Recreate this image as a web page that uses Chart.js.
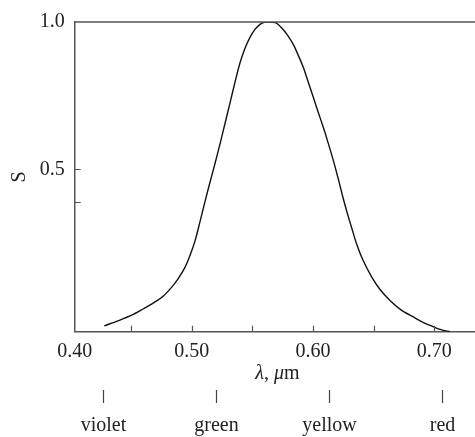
<!DOCTYPE html>
<html>
<head>
<meta charset="utf-8">
<script src="https://cdn.jsdelivr.net/npm/chart.js@4/dist/chart.umd.min.js"></script>
<style>
  html, body { margin: 0; padding: 0; background: #fff; }
  #wrap { width: 475px; height: 437px; position: relative; }
</style>
</head>
<body>
<div id="wrap"><canvas id="chart"></canvas></div>
<script>
// curva de sensibilidad
const wavelength = [
  0.4279, 0.4392, 0.4505, 0.4598, 0.4697, 0.4771, 0.4835, 0.4887, 0.4944, 0.4986,
  0.5027, 0.5068, 0.5109, 0.5150, 0.5192, 0.5233, 0.5274, 0.5315, 0.5357, 0.5398,
  0.5439, 0.5480, 0.5521, 0.5563, 0.5596, 0.5631, 0.5662, 0.5695, 0.5742, 0.5785,
  0.5837, 0.5876, 0.5920, 0.5958, 0.6002, 0.6041, 0.6085, 0.6123, 0.6164, 0.6206,
  0.6247, 0.6280, 0.6321, 0.6362, 0.6412, 0.6484, 0.6552, 0.6634, 0.6725, 0.6826,
  0.6906, 0.6991, 0.7055, 0.7129,
];
const sensitivity = [
  -0.030, -0.013, 0.006, 0.027, 0.051, 0.073, 0.101, 0.129, 0.168, 0.209,
  0.258, 0.323, 0.391, 0.456, 0.521, 0.587, 0.656, 0.725, 0.797, 0.862,
  0.911, 0.948, 0.975, 0.992, 0.999, 1.0, 0.999, 0.997, 0.980, 0.958,
  0.924, 0.889, 0.846, 0.799, 0.745, 0.696, 0.642, 0.592, 0.535, 0.471,
  0.404, 0.355, 0.298, 0.244, 0.192, 0.135, 0.093, 0.056, 0.024, 0.000,
  -0.018, -0.033, -0.043, -0.050,
];

const xLabelValues = [0.40, 0.50, 0.60, 0.70];
const xTickLabels = ["0.40", "0.50", "0.60", "0.70"];
const xMarkValues = [0.45, 0.50, 0.55, 0.60, 0.65, 0.70];

const yLabelValues = [0.5, 1.0];
const yTickLabels = ["0.5", "1.0"];
const yMarkValues = [0.39, 0.5];

const colorNames = ["violet", "green", "yellow", "red"];
const colorPositions = [0.427, 0.520, 0.613, 0.706];

const FONT = "'Liberation Serif', 'DejaVu Serif', serif";
const AXIS_COLOR = "#555";
const TEXT_COLOR = "#222";

const decor = {
  id: "decor",
  afterDraw(chart) {
    const { ctx, chartArea } = chart;
    const xs = chart.scales.x;
    const ys = chart.scales.y;
    ctx.save();

    // linea superior
    ctx.strokeStyle = AXIS_COLOR;
    ctx.lineWidth = 1.5;
    ctx.beginPath();
    ctx.moveTo(chartArea.left, chartArea.top);
    ctx.lineTo(chartArea.right, chartArea.top);
    ctx.stroke();

    // marcas hacia adentro
    ctx.lineWidth = 1.2;
    ctx.beginPath();
    xMarkValues.forEach((v) => {
      const px = Math.round(xs.getPixelForValue(v)) + 0.5;
      ctx.moveTo(px, chartArea.bottom);
      ctx.lineTo(px, chartArea.bottom - 6);
    });
    yMarkValues.forEach((v) => {
      const py = Math.round(ys.getPixelForValue(v)) + 0.5;
      ctx.moveTo(chartArea.left, py);
      ctx.lineTo(chartArea.left + 6, py);
    });
    ctx.stroke();

    ctx.fillStyle = TEXT_COLOR;

    // titulo eje y
    ctx.save();
    ctx.translate(24.8, (chartArea.top + chartArea.bottom) / 2);
    ctx.rotate(-Math.PI / 2);
    ctx.font = `20px ${FONT}`;
    ctx.textAlign = "center";
    ctx.textBaseline = "alphabetic";
    ctx.fillText("S", 0, 0);
    ctx.restore();

    // titulo eje x: λ, μm
    const parts = [
      { t: "λ", it: true },
      { t: ", ", it: false },
      { t: "μ", it: true },
      { t: "m", it: false },
    ];
    let total = 0;
    parts.forEach((p) => {
      ctx.font = `${p.it ? "italic " : ""}20px ${FONT}`;
      p.w = ctx.measureText(p.t).width;
      total += p.w;
    });
    let cx = 277.5 - total / 2;
    ctx.textAlign = "left";
    ctx.textBaseline = "alphabetic";
    parts.forEach((p) => {
      ctx.font = `${p.it ? "italic " : ""}20px ${FONT}`;
      ctx.fillText(p.t, cx, 379);
      cx += p.w;
    });

    // fila de colores
    ctx.strokeStyle = "#444";
    ctx.lineWidth = 1.2;
    ctx.font = `20px ${FONT}`;
    ctx.textAlign = "center";
    colorNames.forEach((name, i) => {
      const px = Math.round(xs.getPixelForValue(colorPositions[i])) + 0.5;
      ctx.beginPath();
      ctx.moveTo(px, 390);
      ctx.lineTo(px, 403);
      ctx.stroke();
      ctx.fillText(name, px, 431);
    });

    ctx.restore();
  },
};

new Chart(document.getElementById("chart"), {
  type: "line",
  data: {
    datasets: [
      {
        data: wavelength.map((x, i) => ({ x, y: sensitivity[i] })),
        borderColor: "#111",
        borderWidth: 1.4,
        pointRadius: 0,
        fill: false,
        tension: 0.3,
      },
    ],
  },
  options: {
    responsive: true,
    maintainAspectRatio: false,
    animation: false,
    layout: { padding: { top: 19, right: 0, bottom: 0, left: 0 } },
    plugins: {
      legend: { display: false },
      tooltip: { enabled: false },
      title: { display: false },
    },
    scales: {
      x: {
        type: "linear",
        min: 0.4035,
        max: 0.7335,
        afterBuildTicks: (scale) => {
          scale.ticks = xLabelValues.map((v) => ({ value: Math.max(v, scale.min) }));
        },
        afterFit: (scale) => {
          scale.height = 105.3;
        },
        grid: { display: true, drawOnChartArea: false, drawTicks: false },
        border: { display: true, color: AXIS_COLOR, width: 1.5 },
        ticks: {
          padding: 8,
          maxRotation: 0,
          autoSkip: false,
          color: TEXT_COLOR,
          font: { family: FONT, size: 20 },
          callback: (v, i) => xTickLabels[i],
        },
      },
      y: {
        type: "linear",
        min: -0.05,
        max: 1.0,
        afterBuildTicks: (scale) => {
          scale.ticks = yLabelValues.map((v) => ({ value: v }));
        },
        afterFit: (scale) => {
          scale.width = 74.7;
        },
        grid: { display: true, drawOnChartArea: false, drawTicks: false },
        border: { display: true, color: AXIS_COLOR, width: 1.5 },
        ticks: {
          padding: 10,
          color: TEXT_COLOR,
          font: { family: FONT, size: 20 },
          callback: (v, i) => yTickLabels[i],
        },
      },
    },
  },
  plugins: [decor],
});
</script>
</body>
</html>
